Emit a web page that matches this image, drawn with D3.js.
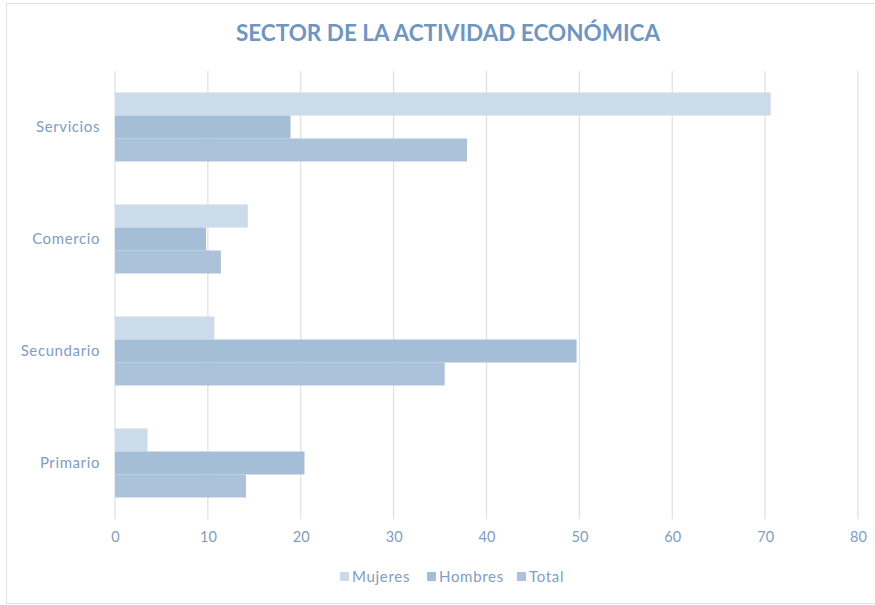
<!DOCTYPE html>
<html>
<head>
<meta charset="utf-8">
<script src="https://cdn.jsdelivr.net/npm/d3@7"></script>
<style>
  body { margin: 0; background: #fff; }
  svg text { font-family: Lato, "Open Sans", sans-serif; }
</style>
</head>
<body>
<svg id="chart" width="875" height="605"></svg>
<script>
var WIDTH = 875;
var HEIGHT = 605;

var categories = ['Servicios', 'Comercio', 'Secundario', 'Primario'];
var seriesNames = ['Mujeres', 'Hombres', 'Total'];
var mujeres = [70.6, 14.3, 10.7, 3.5];
var hombres = [18.9, 9.8, 49.7, 20.4];
var total = [37.9, 11.4, 35.5, 14.1];
var xTicks = [0, 10, 20, 30, 40, 50, 60, 70, 80];

var colors = ['#ccdbe9', '#a4bed8', '#abc2da'];
var textColor = '#819dc0';

var margin = { left: 115, right: 17, top: 71, bottom: 86 };

var svg = d3.select('#chart');

// chart border
svg.append('rect')
    .attr('x', 6.5).attr('y', 3.5)
    .attr('width', WIDTH).attr('height', 600)
    .attr('fill', 'none')
    .attr('stroke', '#e3e3e3');

var xScale = d3.scaleLinear()
    .domain([0, 80])
    .range([margin.left, WIDTH - margin.right]);

var yScale = d3.scaleBand()
    .domain(categories)
    .range([margin.top, HEIGHT - margin.bottom])
    .paddingInner(0.384)
    .paddingOuter(0.192);

var ySub = d3.scaleBand()
    .domain(seriesNames)
    .range([0, yScale.bandwidth()]);

// grid lines
svg.append('g')
    .selectAll('line')
    .data(xTicks)
    .enter()
    .append('line')
    .attr('x1', function(d){ return xScale(d); })
    .attr('x2', function(d){ return xScale(d); })
    .attr('y1', margin.top)
    .attr('y2', HEIGHT - margin.bottom)
    .attr('stroke', '#e0e0e0')
    .attr('stroke-width', 1.2);

var rows = categories.map(function(c, i){
    return { cat: c, values: [mujeres[i], hombres[i], total[i]] };
});

var groups = svg.append('g')
    .selectAll('g')
    .data(rows)
    .enter()
    .append('g')
    .attr('transform', function(d){ return 'translate(0,' + yScale(d.cat) + ')'; });

groups.selectAll('rect')
    .data(function(d){
        return d.values.map(function(v, j){ return { name: seriesNames[j], value: v, idx: j }; });
    })
    .enter()
    .append('rect')
    .attr('x', xScale(0))
    .attr('y', function(d){ return ySub(d.name); })
    .attr('height', ySub.bandwidth())
    .attr('width', function(d){ return xScale(d.value) - xScale(0); })
    .attr('fill', function(d){ return colors[d.idx]; });

// x axis
var bottomAxis = d3.axisBottom(xScale).tickValues(xTicks).tickSize(0).tickPadding(13);
var xAxis = svg.append('g')
    .attr('transform', 'translate(0,' + (HEIGHT - margin.bottom) + ')')
    .call(bottomAxis);
xAxis.select('.domain').remove();
xAxis.selectAll('text')
    .attr('fill', textColor)
    .style('font-size', '14.5px');

// y axis
var leftAxis = d3.axisLeft(yScale).tickSize(0).tickPadding(15);
var yAxis = svg.append('g')
    .attr('transform', 'translate(' + margin.left + ',0)')
    .call(leftAxis);
yAxis.select('.domain').remove();
yAxis.selectAll('text')
    .attr('fill', textColor)
    .style('font-size', '15px')
    .style('letter-spacing', '0.6px');

// title
svg.append('text')
    .attr('x', 448)
    .attr('y', 41)
    .attr('text-anchor', 'middle')
    .attr('fill', '#7096bf')
    .style('font-size', '22.5px')
    .style('font-weight', 'bold')
    .text('SECTOR DE LA ACTIVIDAD ECONÓMICA');

// legend
var legendX = [340, 427, 517];
var legend = svg.append('g')
    .selectAll('g')
    .data(seriesNames)
    .enter()
    .append('g')
    .attr('transform', function(d, i){ return 'translate(' + legendX[i] + ',577)'; });

legend.append('rect')
    .attr('x', 0).attr('y', -5)
    .attr('width', 9).attr('height', 9)
    .attr('fill', function(d, i){ return colors[i]; });

legend.append('text')
    .attr('x', 12)
    .attr('y', 5)
    .attr('fill', textColor)
    .style('font-size', '15px')
    .style('letter-spacing', '0.7px')
    .text(function(d){ return d; });
</script>
</body>
</html>
